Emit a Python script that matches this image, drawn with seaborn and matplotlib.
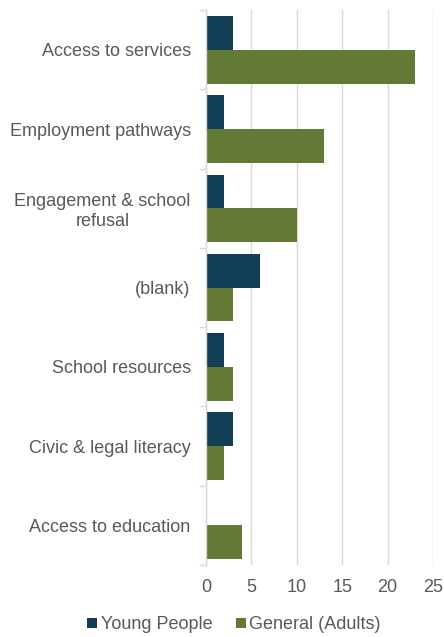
import matplotlib
matplotlib.use("Agg")
import matplotlib.pyplot as plt
import seaborn as sns
import pandas as pd

categories = ["Access to services", "Employment pathways", "Engagement & school\nrefusal",
              "(blank)", "School resources", "Civic & legal literacy", "Access to education"]
young_people = [3, 2, 2, 6, 2, 3, 0]
general_adults = [23, 13, 10, 3, 3, 2, 4]
series = ["Young People", "General (Adults)"]
xticks = [0, 5, 10, 15, 20, 25]

rows = []
for c, y, g in zip(categories, young_people, general_adults):
    rows.append({"cat": c, "series": series[0], "val": y})
    rows.append({"cat": c, "series": series[1], "val": g})
df = pd.DataFrame(rows)

sns.set_theme(style="white")
plt.rcParams['font.family'] = ['Liberation Sans', 'DejaVu Sans']

fig = plt.figure(figsize=(4.44, 6.37), dpi=100)
ax = fig.add_axes([0.464, 0.113, 0.511, 0.871])

palette = {series[0]: "#123f56", series[1]: "#627a36"}
sns.barplot(data=df, y="cat", x="val", hue="series", order=categories, hue_order=series,
            palette=palette, orient="h", width=0.85, ax=ax, saturation=1, errorbar=None,
            linewidth=0)

ax.set_xlim(0, 25)
ax.set_xticks(xticks)
ax.set_xlabel("")
ax.set_ylabel("")
ax.grid(axis="x", color="#d9d9d9", linewidth=1)
ax.set_axisbelow(True)
for s in ["top", "right", "bottom"]:
    ax.spines[s].set_visible(False)
ax.spines["left"].set_color("#d9d9d9")
ax.spines["left"].set_linewidth(1)

ax.set_yticks([i - 0.5 for i in range(len(categories) + 1)], minor=True)
ax.tick_params(axis="y", which="minor", length=5, color="#d9d9d9", left=True)
ax.tick_params(axis="y", which="major", length=0, labelsize=13, labelcolor="#595959", pad=11)
ax.tick_params(axis="x", length=0, labelsize=13, labelcolor="#595959", pad=10)
ax.set_ylim(len(categories) - 0.5, -0.5)
for lbl in ax.get_yticklabels():
    lbl.set_multialignment("center")

ax.get_legend().remove()
handles, labels = ax.get_legend_handles_labels()
fig.legend(handles, labels, loc="center", bbox_to_anchor=(0.527, 0.019), ncol=2, frameon=False,
           fontsize=13, handlelength=0.55, handleheight=0.55, handletextpad=0.2,
           columnspacing=1.3, labelcolor="#595959", borderpad=0)

fig.savefig("out.png", dpi=100)
